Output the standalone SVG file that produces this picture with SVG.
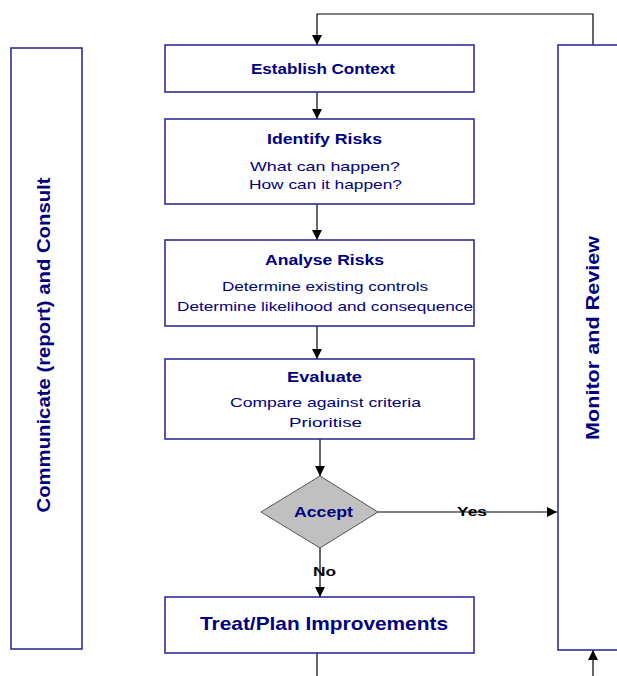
<svg xmlns="http://www.w3.org/2000/svg" width="617" height="676" viewBox="0 0 617 676">
<style>
.box{fill:#ffffff;stroke:#2e2e99;stroke-width:1.6}
.ln{fill:none;stroke:#000000;stroke-width:1.2}
.t{font-family:"Liberation Sans",Arial,sans-serif;fill:#000080;text-anchor:middle;dominant-baseline:central}
.h{font-weight:bold;font-size:15px}
.s{font-size:13px}
.lab{font-family:"Liberation Sans",Arial,sans-serif;font-weight:bold;font-size:12px;fill:#000000;text-anchor:middle;dominant-baseline:central}
</style>
<defs>
<marker id="ah" viewBox="0 0 10 10" refX="10" refY="5" markerWidth="10" markerHeight="10" markerUnits="userSpaceOnUse" orient="auto">
<path d="M0,0 L10,5 L0,10 Z" fill="#000000"/>
</marker>
</defs>
<rect width="617" height="676" fill="#ffffff"/>
<g id="connectors">
<path class="ln" d="M593,45 V14 H317 V45" marker-end="url(#ah)"/>
<path class="ln" d="M317,92 V119" marker-end="url(#ah)"/>
<path class="ln" d="M317,204 V240" marker-end="url(#ah)"/>
<path class="ln" d="M317,326 V359" marker-end="url(#ah)"/>
<path class="ln" d="M320,439 V476" marker-end="url(#ah)"/>
<path class="ln" d="M378,512 H557" marker-end="url(#ah)"/>
<path class="ln" d="M320,548 V597" marker-end="url(#ah)"/>
<path class="ln" d="M317,652 V676"/>
<path class="ln" d="M593,676 V650" marker-end="url(#ah)"/>
<text class="lab" x="472" y="512" textLength="30" lengthAdjust="spacingAndGlyphs">Yes</text>
<text class="lab" x="324.5" y="572" textLength="23" lengthAdjust="spacingAndGlyphs">No</text>
</g>
<g id="communicate">
<rect class="box" x="11" y="48" width="71" height="601"/>
<text class="t" transform="translate(44,345) rotate(-90)" font-weight="bold" font-size="18" textLength="335" lengthAdjust="spacingAndGlyphs">Communicate (report) and Consult</text>
</g>
<g id="monitor">
<rect class="box" x="558" y="45" width="70" height="605"/>
<text class="t" transform="translate(593,338) rotate(-90)" font-weight="bold" font-size="18" textLength="204" lengthAdjust="spacingAndGlyphs">Monitor and Review</text>
</g>
<g id="establish">
<rect class="box" x="165" y="45" width="309" height="47"/>
<text class="t h" x="323" y="68" textLength="144" lengthAdjust="spacingAndGlyphs">Establish Context</text>
</g>
<g id="identify">
<rect class="box" x="165" y="119" width="309" height="85"/>
<text class="t h" x="324.5" y="138" textLength="115" lengthAdjust="spacingAndGlyphs">Identify Risks</text>
<text class="t s" x="325" y="166" textLength="150" lengthAdjust="spacingAndGlyphs">What can happen?</text>
<text class="t s" x="325.5" y="184" textLength="153" lengthAdjust="spacingAndGlyphs">How can it happen?</text>
</g>
<g id="analyse">
<rect class="box" x="165" y="240" width="309" height="86"/>
<text class="t h" x="324.5" y="259" textLength="119" lengthAdjust="spacingAndGlyphs">Analyse Risks</text>
<text class="t s" x="325" y="286" textLength="206" lengthAdjust="spacingAndGlyphs">Determine existing controls</text>
<text class="t s" x="325" y="306" textLength="296" lengthAdjust="spacingAndGlyphs">Determine likelihood and consequence</text>
</g>
<g id="evaluate">
<rect class="box" x="165" y="359" width="309" height="80"/>
<text class="t h" x="324.5" y="376" textLength="75" lengthAdjust="spacingAndGlyphs">Evaluate</text>
<text class="t s" x="325.5" y="402" textLength="191" lengthAdjust="spacingAndGlyphs">Compare against criteria</text>
<text class="t s" x="325.5" y="422" textLength="73" lengthAdjust="spacingAndGlyphs">Prioritise</text>
</g>
<g id="accept">
<polygon points="320,476 378,512 320,548 261,512" fill="#c0c0c0" stroke="#555555" stroke-width="1"/>
<text class="t" x="323.5" y="512" font-weight="bold" font-size="14" textLength="59" lengthAdjust="spacingAndGlyphs">Accept</text>
</g>
<g id="treat">
<rect class="box" x="165" y="597" width="309" height="56"/>
<text class="t" x="324" y="623" font-weight="bold" font-size="19" textLength="248" lengthAdjust="spacingAndGlyphs">Treat/Plan Improvements</text>
</g>
</svg>
